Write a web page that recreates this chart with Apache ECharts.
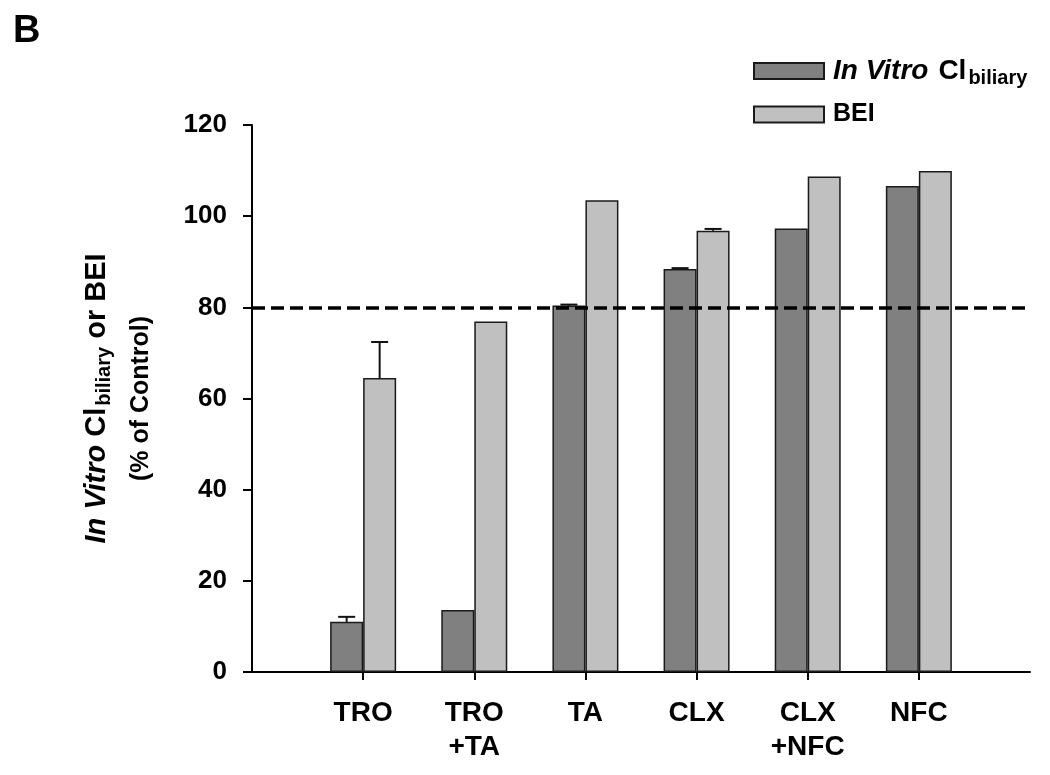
<!DOCTYPE html>
<html>
<head>
<meta charset="utf-8">
<script src="https://cdn.jsdelivr.net/npm/echarts@6/dist/echarts.min.js"></script>
<style>html,body{margin:0;padding:0;background:#fff}#c{width:1050px;height:775px}</style>
</head>
<body>
<div id="c"></div>
<script>
// ---- data ----
const categories = ['', 'TRO', 'TRO\n+TA', 'TA', 'CLX', 'CLX\n+NFC', 'NFC', ''];
const inVitroValues = [null, 11.0, 13.6, 80.4, 88.4, 97.3, 106.6, null];
const inVitroErrors = [null, 1.1, null, 0.2, 0.2, null, null, null];
const beiValues = [null, 64.5, 76.9, 103.5, 96.8, 108.7, 109.9, null];
const beiErrors = [null, 7.9, null, null, 0.4, null, null, null];
const yTicks = [0, 20, 40, 60, 80, 100, 120];
const thresholdValue = 80;

const FONT = '"Liberation Sans", Arial, Helvetica, sans-serif';
const BAR_W = 33;
const chart = echarts.init(document.getElementById('c'), null, {renderer: 'canvas'});

function errorSeries(name, values, errs, offset) {
  const data = [];
  values.forEach((v, i) => { if (v != null && errs[i] != null) data.push([i, v, v + errs[i]]); });
  return {
    type: 'custom', name: name, silent: true, z: 5,
    data: data,
    renderItem: function (params, api) {
      const p0 = api.coord([api.value(0), api.value(1)]);
      const p1 = api.coord([api.value(0), api.value(2)]);
      const x = p0[0] + offset;
      const cap = 8.5;
      return {
        type: 'group',
        children: [
          {type: 'line', shape: {x1: x, y1: p0[1], x2: x, y2: p1[1]}, style: {stroke: '#111', lineWidth: 2}},
          {type: 'line', shape: {x1: x - cap, y1: p1[1], x2: x + cap, y2: p1[1]}, style: {stroke: '#111', lineWidth: 2}}
        ]
      };
    }
  };
}

const legendRich = {
  i: {fontFamily: FONT, fontWeight: 'bold', fontStyle: 'italic', fontSize: 28, color: '#000', padding: [0, 8, 0, 0]},
  c: {fontFamily: FONT, fontWeight: 'bold', fontSize: 28, color: '#000', padding: [0, 2, 0, 2]},
  n: {fontFamily: FONT, fontWeight: 'bold', fontSize: 25, color: '#000'},
  s: {fontFamily: FONT, fontWeight: 'bold', fontSize: 20, color: '#000', padding: [14, 0, 0, 0]}
};
const nameRich = {
  i: {fontFamily: FONT, fontWeight: 'bold', fontStyle: 'italic', fontSize: 29, color: '#000', padding: [0, 8, 0, 0]},
  c: {fontFamily: FONT, fontWeight: 'bold', fontSize: 29, color: '#000', padding: [0, 2, 0, 0]},
  n: {fontFamily: FONT, fontWeight: 'bold', fontSize: 29, color: '#000'},
  s: {fontFamily: FONT, fontWeight: 'bold', fontSize: 20, color: '#000', padding: [14, 0, 0, 0]},
  l2: {fontFamily: FONT, fontWeight: 'bold', fontSize: 25, color: '#000', lineHeight: 54}
};

const option = {
  backgroundColor: '#fff',
  animation: false,
  title: {
    text: 'B', left: 8, top: 8,
    textStyle: {fontFamily: FONT, fontWeight: 'bold', fontSize: 38, color: '#000'}
  },
  legend: {
    orient: 'vertical', left: 748, top: 52,
    itemWidth: 70, itemHeight: 16, itemGap: 14,
    icon: 'rect',
    data: ['In Vitro Clbiliary', 'BEI'],
    formatter: function (name) {
      return name === 'BEI' ? '{n|BEI}' : '{i|In Vitro}{c|Cl}{s|biliary}';
    },
    textStyle: {rich: legendRich, padding: [0, 0, 0, 4]}
  },
  grid: {left: 252, right: 20, top: 125, bottom: 103, containLabel: false},
  xAxis: {
    type: 'category', data: categories, boundaryGap: false,
    axisLine: {lineStyle: {color: '#000', width: 2}},
    axisTick: {
      length: 8, lineStyle: {color: '#000', width: 2},
      interval: function (idx) { return idx > 0 && idx < categories.length - 1; }
    },
    axisLabel: {
      fontFamily: FONT, fontWeight: 'bold', fontSize: 28, color: '#000',
      lineHeight: 34, margin: 24, interval: 0
    },
    splitLine: {show: false}
  },
  yAxis: {
    type: 'value', min: 0, max: 120, interval: 20,
    axisLine: {show: true, lineStyle: {color: '#000', width: 2}},
    axisTick: {show: true, length: 9, lineStyle: {color: '#000', width: 2}},
    axisLabel: {
      fontFamily: FONT, fontWeight: 'bold', fontSize: 26, color: '#000', margin: 25,
      formatter: function (v) { return yTicks.indexOf(v) >= 0 ? String(v) : ''; }
    },
    splitLine: {show: false},
    name: '{i|In Vitro}{c|Cl}{s|biliary}{n| or BEI}\n{l2|(% of Control)}',
    nameLocation: 'middle', nameRotate: 90, nameGap: 84,
    nameTextStyle: {rich: nameRich, align: 'center'}
  },
  series: [
    {
      name: 'In Vitro Clbiliary', type: 'bar', data: inVitroValues,
      barWidth: BAR_W, barGap: '0%',
      itemStyle: {color: '#808080', borderColor: '#1a1a1a', borderWidth: 1.5},
      markLine: {
        silent: true, symbol: ['none', 'none'], label: {show: false},
        lineStyle: {color: '#000', width: 3.5, type: [13, 6]},
        data: [{yAxis: thresholdValue}]
      },
      z: 2
    },
    {
      name: 'BEI', type: 'bar', data: beiValues,
      barWidth: BAR_W, barGap: '0%',
      itemStyle: {color: '#c0c0c0', borderColor: '#1a1a1a', borderWidth: 1.5},
      z: 2
    },
    errorSeries('errInVitro', inVitroValues, inVitroErrors, -BAR_W / 2),
    errorSeries('errBEI', beiValues, beiErrors, BAR_W / 2)
  ]
};
chart.setOption(option);
</script>
</body>
</html>
